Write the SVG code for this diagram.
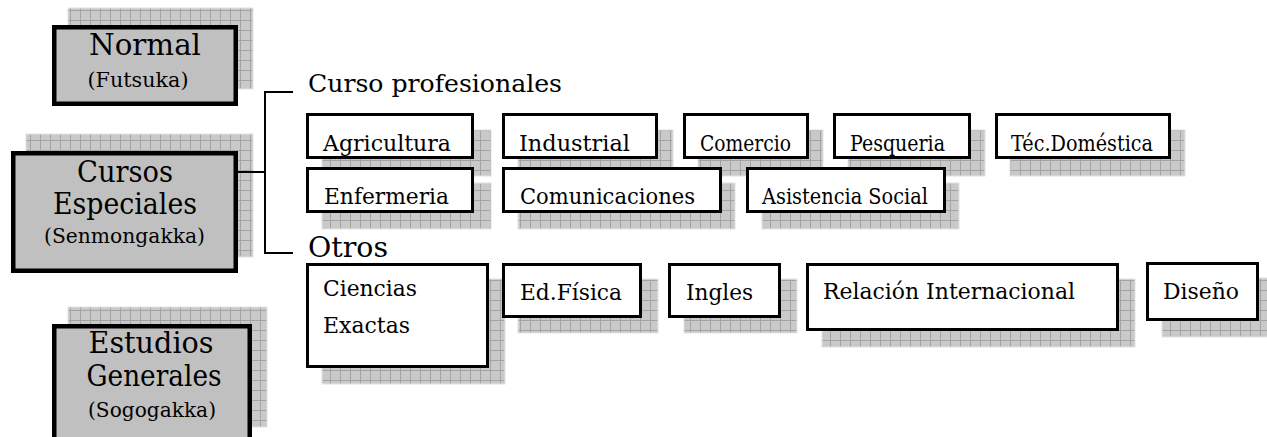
<svg xmlns="http://www.w3.org/2000/svg" width="1267" height="437" viewBox="0 0 1267 437">
<defs>
<pattern id="grid" width="10" height="10" patternUnits="userSpaceOnUse">
<rect width="10" height="10" fill="#c9c9c9"/>
<path d="M0 0.5H10M0.5 0V10" stroke="#a3a3a3" stroke-width="1"/>
</pattern>
<style>
.sh{fill:url(#grid);stroke:#e2e2e2;stroke-width:1}
.big{fill:#c0c0c0;stroke:#000;stroke-width:4.5}
.sm{fill:#fff;stroke:#000;stroke-width:3}
text{font-family:"DejaVu Serif","Liberation Serif",serif;fill:#000}
.t1{font-size:29px;text-anchor:middle}
.t2{font-size:20px;text-anchor:middle}
.t3{font-size:22px}
.hd{font-size:24.5px}
.ln{fill:none;stroke:#000;stroke-width:2}
</style>
</defs>
<rect width="1267" height="437" fill="#fff"/>

<g id="normal">
<rect class="sh" x="68" y="8" width="185" height="81"/>
<rect class="big" x="54.25" y="27.25" width="181.5" height="76.5"/>
<text class="t1" x="145" y="55" textLength="112" lengthAdjust="spacingAndGlyphs">Normal</text>
<text class="t2" x="138" y="87" textLength="101" lengthAdjust="spacingAndGlyphs">(Futsuka)</text>
</g>

<g id="cursos-especiales">
<rect class="sh" x="26" y="134" width="227" height="123"/>
<rect class="big" x="13.25" y="153.25" width="222.5" height="117.5"/>
<text class="t1" x="125" y="182" textLength="96" lengthAdjust="spacingAndGlyphs">Cursos</text>
<text class="t1" x="125" y="214" textLength="144" lengthAdjust="spacingAndGlyphs">Especiales</text>
<text class="t2" x="124.5" y="243" textLength="161" lengthAdjust="spacingAndGlyphs">(Senmongakka)</text>
</g>

<g id="estudios-generales">
<rect class="sh" x="68" y="307" width="199" height="120"/>
<rect class="big" x="54.25" y="326.25" width="195.5" height="120"/>
<text class="t1" x="151" y="353" textLength="125" lengthAdjust="spacingAndGlyphs">Estudios</text>
<text class="t1" x="154" y="386" textLength="135" lengthAdjust="spacingAndGlyphs">Generales</text>
<text class="t2" x="152" y="417" textLength="128" lengthAdjust="spacingAndGlyphs">(Sogogakka)</text>
</g>

<g id="connectors">
<path class="ln" d="M293 92H265V253H293"/>
<path class="ln" d="M238 172H265" stroke-width="1.6"/>
</g>

<g id="label-curso-profesionales">
<text class="hd" x="308" y="92" textLength="254" lengthAdjust="spacingAndGlyphs">Curso profesionales</text>
</g>
<g id="label-otros">
<text class="hd" x="308" y="257" textLength="80" lengthAdjust="spacingAndGlyphs" style="font-size:28px">Otros</text>
</g>

<g id="agricultura">
<rect class="sh" x="322" y="130" width="169" height="46"/>
<rect class="sm" x="307.5" y="114.5" width="165" height="43"/>
<text class="t3" x="323" y="151" textLength="128" lengthAdjust="spacingAndGlyphs">Agricultura</text>
</g>
<g id="industrial">
<rect class="sh" x="518" y="130" width="155" height="46"/>
<rect class="sm" x="503.5" y="114.5" width="153" height="43"/>
<text class="t3" x="519" y="151" textLength="111" lengthAdjust="spacingAndGlyphs">Industrial</text>
</g>
<g id="comercio">
<rect class="sh" x="698" y="130" width="125" height="46"/>
<rect class="sm" x="684.5" y="114.5" width="123" height="43"/>
<text class="t3" x="700" y="151" textLength="91" lengthAdjust="spacingAndGlyphs">Comercio</text>
</g>
<g id="pesqueria">
<rect class="sh" x="848" y="130" width="137" height="46"/>
<rect class="sm" x="834.5" y="114.5" width="135" height="43"/>
<text class="t3" x="850" y="151" textLength="95" lengthAdjust="spacingAndGlyphs">Pesqueria</text>
</g>
<g id="tec-domestica">
<rect class="sh" x="1010" y="130" width="175" height="46"/>
<rect class="sm" x="996.5" y="114.5" width="173" height="43"/>
<text class="t3" x="1011" y="151" textLength="142" lengthAdjust="spacingAndGlyphs">Téc.Doméstica</text>
</g>

<g id="enfermeria">
<rect class="sh" x="322" y="183" width="169" height="46"/>
<rect class="sm" x="307.5" y="168.5" width="165" height="43"/>
<text class="t3" x="324" y="204" textLength="125" lengthAdjust="spacingAndGlyphs">Enfermeria</text>
</g>
<g id="comunicaciones">
<rect class="sh" x="518" y="183" width="217" height="46"/>
<rect class="sm" x="503.5" y="168.5" width="217" height="43"/>
<text class="t3" x="520" y="204" textLength="175" lengthAdjust="spacingAndGlyphs">Comunicaciones</text>
</g>
<g id="asistencia-social">
<rect class="sh" x="762" y="183" width="197" height="46"/>
<rect class="sm" x="747.5" y="168.5" width="197" height="43"/>
<text class="t3" x="762" y="204" textLength="166" lengthAdjust="spacingAndGlyphs">Asistencia Social</text>
</g>

<g id="ciencias-exactas">
<rect class="sh" x="322" y="279" width="183" height="105"/>
<rect class="sm" x="307.5" y="264.5" width="180" height="102"/>
<text class="t3" x="323" y="296" textLength="94" lengthAdjust="spacingAndGlyphs">Ciencias</text>
<text class="t3" x="323" y="333" textLength="87" lengthAdjust="spacingAndGlyphs">Exactas</text>
</g>
<g id="ed-fisica">
<rect class="sh" x="518" y="279" width="140" height="54"/>
<rect class="sm" x="503.5" y="264.5" width="137" height="52"/>
<text class="t3" x="520" y="300" textLength="102" lengthAdjust="spacingAndGlyphs">Ed.Física</text>
</g>
<g id="ingles">
<rect class="sh" x="684" y="279" width="113" height="54"/>
<rect class="sm" x="669.5" y="264.5" width="110" height="52"/>
<text class="t3" x="686" y="300" textLength="67" lengthAdjust="spacingAndGlyphs">Ingles</text>
</g>
<g id="relacion-internacional">
<rect class="sh" x="822" y="279" width="313" height="68"/>
<rect class="sm" x="807.5" y="264.5" width="310" height="65"/>
<text class="t3" x="823" y="299" textLength="252" lengthAdjust="spacingAndGlyphs">Relación Internacional</text>
</g>
<g id="diseno">
<rect class="sh" x="1162" y="278" width="106" height="59"/>
<rect class="sm" x="1147.5" y="263.5" width="110" height="56"/>
<text class="t3" x="1163" y="299" textLength="76" lengthAdjust="spacingAndGlyphs">Diseño</text>
</g>
</svg>
